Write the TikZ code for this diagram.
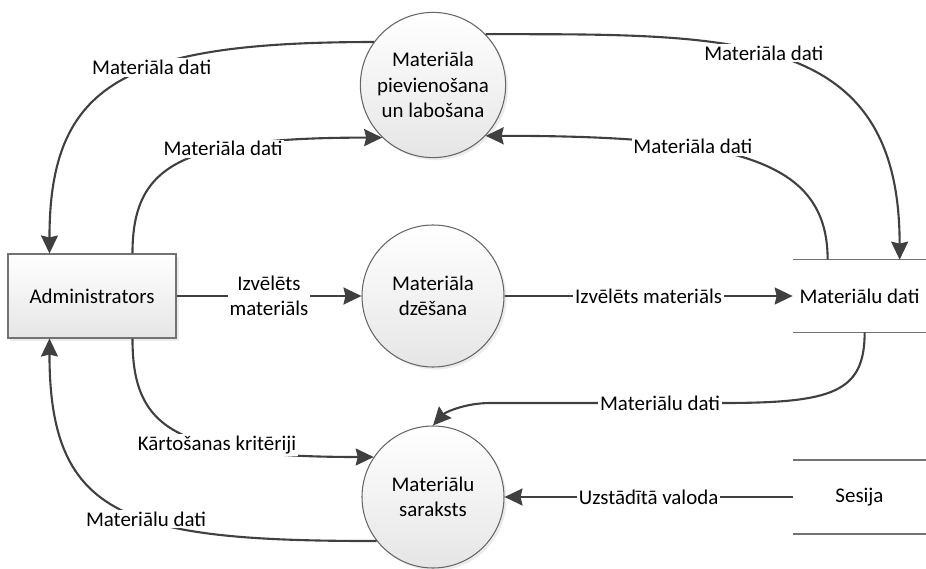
\documentclass[tikz,border=0pt]{standalone}
\usepackage{fontspec}
\setmainfont{Carlito}
\usetikzlibrary{arrows.meta,shadows}

\begin{document}
\begin{tikzpicture}[font=\fontsize{11.9}{14.4}\selectfont,
                    proc_style/.style={circle, minimum size=2.84cm, align=center,
                      draw=black!60, line width=0.6pt, top color=white, bottom color=black!10,
                      drop shadow={shadow xshift=0.05cm, shadow yshift=-0.05cm, fill=black!25, opacity=0.3}},
                    ext_style/.style={rectangle, minimum width=3.36cm, minimum height=1.68cm,
                      draw=black!55, line width=0.6pt, top color=white, bottom color=black!10,
                      drop shadow={shadow xshift=0.05cm, shadow yshift=-0.05cm, fill=black!25, opacity=0.3}},
                    store_style/.style={minimum width=2.66cm, minimum height=1.44cm},
                    store_line/.style={draw=black!55, line width=0.8pt},
                    edge_style/.style={-{Stealth[length=0.36cm, width=0.34cm, inset=0.04cm]},
                      draw=black!75, line width=1.2pt},
                    lbl/.style={fill=white, inner sep=1pt, align=center}
   ]
   \useasboundingbox (0,0) rectangle (18.52,11.36);
   \node[ext_style] (admin) at (1.84,5.44) {Administrators};
   % Processes
   \node[proc_style] (p1) at (8.66,9.66) {Materiāla\\pievienošana\\un labošana};
   \node[proc_style] (p2) at (8.66,5.44) {Materiāla\\dzēšana};
   \node[proc_style] (p3) at (8.66,1.42) {Materiālu\\saraksts};
   % Data stores
   \node[store_style] (d1) at (17.19,5.44) {Materiālu dati};
   \node[store_style, minimum height=1.46cm] (d2) at (17.19,1.42) {Sesija};
   \draw[store_line] (d1.north west) -- (d1.north east);
   \draw[store_line] (d1.south west) -- (d1.south east);
   \draw[store_line] (d2.north west) -- (d2.north east);
   \draw[store_line] (d2.south west) -- (d2.south east);

    \draw[edge_style] (p1.144) .. controls +(-5,0) and +(0,3.4) .. node[lbl, pos=0.4] {Materiāla dati} ([xshift=0.84cm]admin.north west);
    \draw[edge_style] ([xshift=2.5cm]admin.north west) .. controls +(0,1.8) and +(-4,0) .. node[lbl, pos=0.65] {Materiāla dati} (p1.226);
    \draw[edge_style] (p1.44) .. controls +(5,0) and +(0,4.6) .. node[lbl, pos=0.45] {Materiāla dati} ([xshift=2.14cm]d1.north west);
    \draw[edge_style] ([xshift=0.7cm]d1.north west) .. controls +(0,2) and +(5,0) .. node[lbl, pos=0.65] {Materiāla dati} (p1.316);
    \draw[edge_style] (admin.east) -- node[lbl] {Izvēlēts\\materiāls} (p2.west);
    \draw[edge_style] (p2.east) -- node[lbl] {Izvēlēts materiāls} (d1.west);
    \draw[edge_style] ([xshift=1.44cm]d1.south west) .. controls +(0,-1.2) and +(2.2,0) .. (14.46,3.30)
        -- node[lbl, pos=0.27] {Materiālu dati} (9.80,3.30) .. controls +(-0.5,0) and +(0.24,0.26) .. (p3.north);
    \draw[edge_style] ([xshift=2.5cm]admin.south west) .. controls +(0,-1.8) and +(-4,0) .. node[lbl, pos=0.65] {Kārtošanas kritēriji} (p3.146);
    \draw[edge_style] (p3.218) .. controls +(-5,0) and +(0,-3.6) .. node[lbl, pos=0.42] {Materiālu dati} ([xshift=0.84cm]admin.south west);
    \draw[edge_style] (d2.west) -- node[lbl] {Uzstādītā valoda} (p3.east);
\end{tikzpicture}
\end{document}
